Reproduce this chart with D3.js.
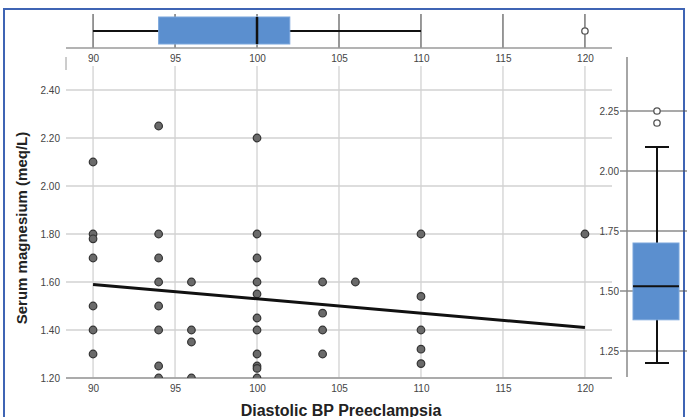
<!DOCTYPE html>
<html>
<head>
<meta charset="utf-8">
<script src="https://cdn.jsdelivr.net/npm/d3@7"></script>
<style>
  body { margin: 0; background: #fff; }
  svg { display: block; font-family: "Liberation Sans", Arial, sans-serif; }
  .tick text { fill: #444; font-size: 10px; }
</style>
</head>
<body>
<svg id="chart" width="687" height="417"></svg>
<script>
// scatter points, one array per column of the picture
var diastolic = [90,90,90,90,90,90,90,
                 94,94,94,94,94,94,94,94,
                 96,96,96,96,
                 100,100,100,100,100,100,100,100,100,100,100,
                 104,104,104,104,
                 106,
                 110,110,110,110,110,
                 120];
var magnesium = [2.10,1.80,1.78,1.70,1.50,1.40,1.30,
                 2.25,1.80,1.70,1.60,1.50,1.40,1.25,1.20,
                 1.60,1.40,1.35,1.20,
                 2.20,1.80,1.70,1.60,1.55,1.45,1.40,1.30,1.25,1.24,1.20,
                 1.60,1.47,1.40,1.30,
                 1.60,
                 1.80,1.54,1.40,1.32,1.26,
                 1.80];

// fit line end points
var fitX = [90, 120];
var fitY = [1.59, 1.41];

// box plot stats: [lowWhisker, q1, median, q3, highWhisker]
var bpStats = [90, 94, 100, 102, 110];
var bpOutliers = [120];
var mgStats = [1.20, 1.38, 1.52, 1.70, 2.10];
var mgOutliers = [2.25, 2.20];

var xTicks = [90, 95, 100, 105, 110, 115, 120];
var yTicks = [1.20, 1.40, 1.60, 1.80, 2.00, 2.20, 2.40];
var mgTicks = [1.25, 1.50, 1.75, 2.00, 2.25];

var svg = d3.select("#chart");

var pLeft = 66, pRight = 612, pTop = 66, pBottom = 378;

var x = d3.scaleLinear().domain([88.35, 121.65]).range([pLeft, pRight]);
var y = d3.scaleLinear().domain([1.2, 2.5]).range([pBottom, pTop]);
var yR = d3.scaleLinear().domain([1.25, 2.25]).range([351, 111]);

var boxFill = "#5b8fcf";

// outer blue frame
svg.append("rect")
    .attr("x", 4).attr("y", 9)
    .attr("width", 680).attr("height", 420)
    .attr("fill", "none")
    .attr("stroke", "#3f64b4")
    .attr("stroke-width", 2);

//---- main scatter ----
var grid = svg.append("g");
grid.selectAll(".vg").data(xTicks).enter().append("line")
    .attr("x1", function(d) { return x(d); }).attr("x2", function(d) { return x(d); })
    .attr("y1", pTop).attr("y2", pBottom)
    .attr("stroke", "#d2d2d2").attr("stroke-width", 1.3);
grid.selectAll(".hg").data(yTicks).enter().append("line")
    .attr("x1", pLeft).attr("x2", pRight)
    .attr("y1", function(d) { return y(d); }).attr("y2", function(d) { return y(d); })
    .attr("stroke", "#d2d2d2").attr("stroke-width", 1.3);

// bottom axis line
svg.append("line")
    .attr("x1", pLeft).attr("x2", pRight)
    .attr("y1", pBottom).attr("y2", pBottom)
    .attr("stroke", "#9a9a9a").attr("stroke-width", 1.5);
// small stub at top-left
svg.append("line")
    .attr("x1", pLeft).attr("x2", pLeft)
    .attr("y1", 57).attr("y2", 70)
    .attr("stroke", "#9a9a9a").attr("stroke-width", 1);

// axis labels via d3 axes (no lines)
var xAxisB = d3.axisBottom(x).tickValues(xTicks).tickFormat(d3.format("d")).tickSize(0).tickPadding(7);
svg.append("g").attr("transform", "translate(0," + pBottom + ")").call(xAxisB)
    .call(function(g) { g.select(".domain").remove(); });

var xAxisT = d3.axisBottom(x).tickValues(xTicks).tickFormat(d3.format("d")).tickSize(0).tickPadding(7);
svg.append("g").attr("transform", "translate(0,48)").call(xAxisT)
    .call(function(g) { g.select(".domain").remove(); });

var yAxis = d3.axisLeft(y).tickValues(yTicks).tickFormat(d3.format(".2f")).tickSize(0).tickPadding(6);
svg.append("g").attr("transform", "translate(" + pLeft + ",0)").call(yAxis)
    .call(function(g) { g.select(".domain").remove(); });

// clip for points
svg.append("defs").append("clipPath").attr("id", "plotclip")
    .append("rect").attr("x", pLeft).attr("y", pTop - 10)
    .attr("width", pRight - pLeft).attr("height", pBottom - pTop + 10);

var pts = svg.append("g").attr("clip-path", "url(#plotclip)");
pts.selectAll(".dot").data(diastolic).enter().append("circle")
    .attr("class", "dot")
    .attr("cx", function(d) { return x(d); })
    .attr("cy", function(d, i) { return y(magnesium[i]); })
    .attr("r", 3.8)
    .attr("fill", "#6a6a6a")
    .attr("stroke", "#333")
    .attr("stroke-width", 1.2);

// fit line
svg.append("line")
    .attr("x1", x(fitX[0])).attr("y1", y(fitY[0]))
    .attr("x2", x(fitX[1])).attr("y2", y(fitY[1]))
    .attr("stroke", "#111").attr("stroke-width", 3);

//---- top box plot ----
var top2 = svg.append("g");
top2.selectAll("line.tg").data(xTicks).enter().append("line")
    .attr("x1", function(d) { return x(d); }).attr("x2", function(d) { return x(d); })
    .attr("y1", 14).attr("y2", 48)
    .attr("stroke", "#555").attr("stroke-width", 1.2);
top2.append("line")
    .attr("x1", pLeft).attr("x2", pRight).attr("y1", 48).attr("y2", 48)
    .attr("stroke", "#9a9a9a").attr("stroke-width", 1.5);
top2.append("line")
    .attr("x1", x(bpStats[0])).attr("x2", x(bpStats[4]))
    .attr("y1", 31).attr("y2", 31)
    .attr("stroke", "#111").attr("stroke-width", 2);
top2.append("rect")
    .attr("x", x(bpStats[1])).attr("width", x(bpStats[3]) - x(bpStats[1]))
    .attr("y", 17).attr("height", 27)
    .attr("fill", boxFill).attr("stroke", "#7aa6dc").attr("stroke-width", 1);
top2.append("line")
    .attr("x1", x(bpStats[2])).attr("x2", x(bpStats[2]))
    .attr("y1", 17).attr("y2", 44)
    .attr("stroke", "#111").attr("stroke-width", 2.5);
top2.selectAll("circle").data(bpOutliers).enter().append("circle")
    .attr("cx", function(d) { return x(d); }).attr("cy", 31).attr("r", 3.2)
    .attr("fill", "#fff").attr("stroke", "#555").attr("stroke-width", 1.3);

//---- right box plot ----
var rx = 627, cx = 657;
var side = svg.append("g");
side.selectAll("line.rg").data(mgTicks).enter().append("line")
    .attr("x1", 620).attr("x2", 687)
    .attr("y1", function(d) { return yR(d); }).attr("y2", function(d) { return yR(d); })
    .attr("stroke", "#555").attr("stroke-width", 1.2);
side.append("line")
    .attr("x1", rx).attr("x2", rx).attr("y1", 57).attr("y2", 377)
    .attr("stroke", "#888").attr("stroke-width", 1.5);
var rAxis = d3.axisLeft(yR).tickValues(mgTicks).tickFormat(d3.format(".2f")).tickSize(0).tickPadding(8);
side.append("g").attr("transform", "translate(" + rx + ",0)").call(rAxis)
    .call(function(g) { g.select(".domain").remove(); });

side.append("line")
    .attr("x1", cx).attr("x2", cx)
    .attr("y1", yR(mgStats[0])).attr("y2", yR(mgStats[4]))
    .attr("stroke", "#111").attr("stroke-width", 2);
side.selectAll("line.cap").data([mgStats[0], mgStats[4]]).enter().append("line")
    .attr("x1", 645).attr("x2", 669)
    .attr("y1", function(d) { return yR(d); }).attr("y2", function(d) { return yR(d); })
    .attr("stroke", "#111").attr("stroke-width", 2);
side.append("rect")
    .attr("x", 633).attr("width", 46)
    .attr("y", yR(mgStats[3])).attr("height", yR(mgStats[1]) - yR(mgStats[3]))
    .attr("fill", boxFill).attr("stroke", "#7aa6dc").attr("stroke-width", 1);
side.append("line")
    .attr("x1", 633).attr("x2", 679)
    .attr("y1", yR(mgStats[2])).attr("y2", yR(mgStats[2]))
    .attr("stroke", "#111").attr("stroke-width", 2);
side.selectAll("circle").data(mgOutliers).enter().append("circle")
    .attr("cx", cx).attr("cy", function(d) { return yR(d); }).attr("r", 3.2)
    .attr("fill", "#fff").attr("stroke", "#555").attr("stroke-width", 1.3);

//---- titles ----
svg.append("text")
    .attr("x", 341).attr("y", 416)
    .attr("text-anchor", "middle")
    .attr("font-weight", "bold").attr("font-size", 16)
    .attr("fill", "#222")
    .text("Diastolic BP Preeclampsia");

svg.append("text")
    .attr("transform", "translate(27,228) rotate(-90)")
    .attr("text-anchor", "middle")
    .attr("font-weight", "bold").attr("font-size", 15)
    .attr("fill", "#222")
    .text("Serum magnesium (meq/L)");
</script>
</body>
</html>
